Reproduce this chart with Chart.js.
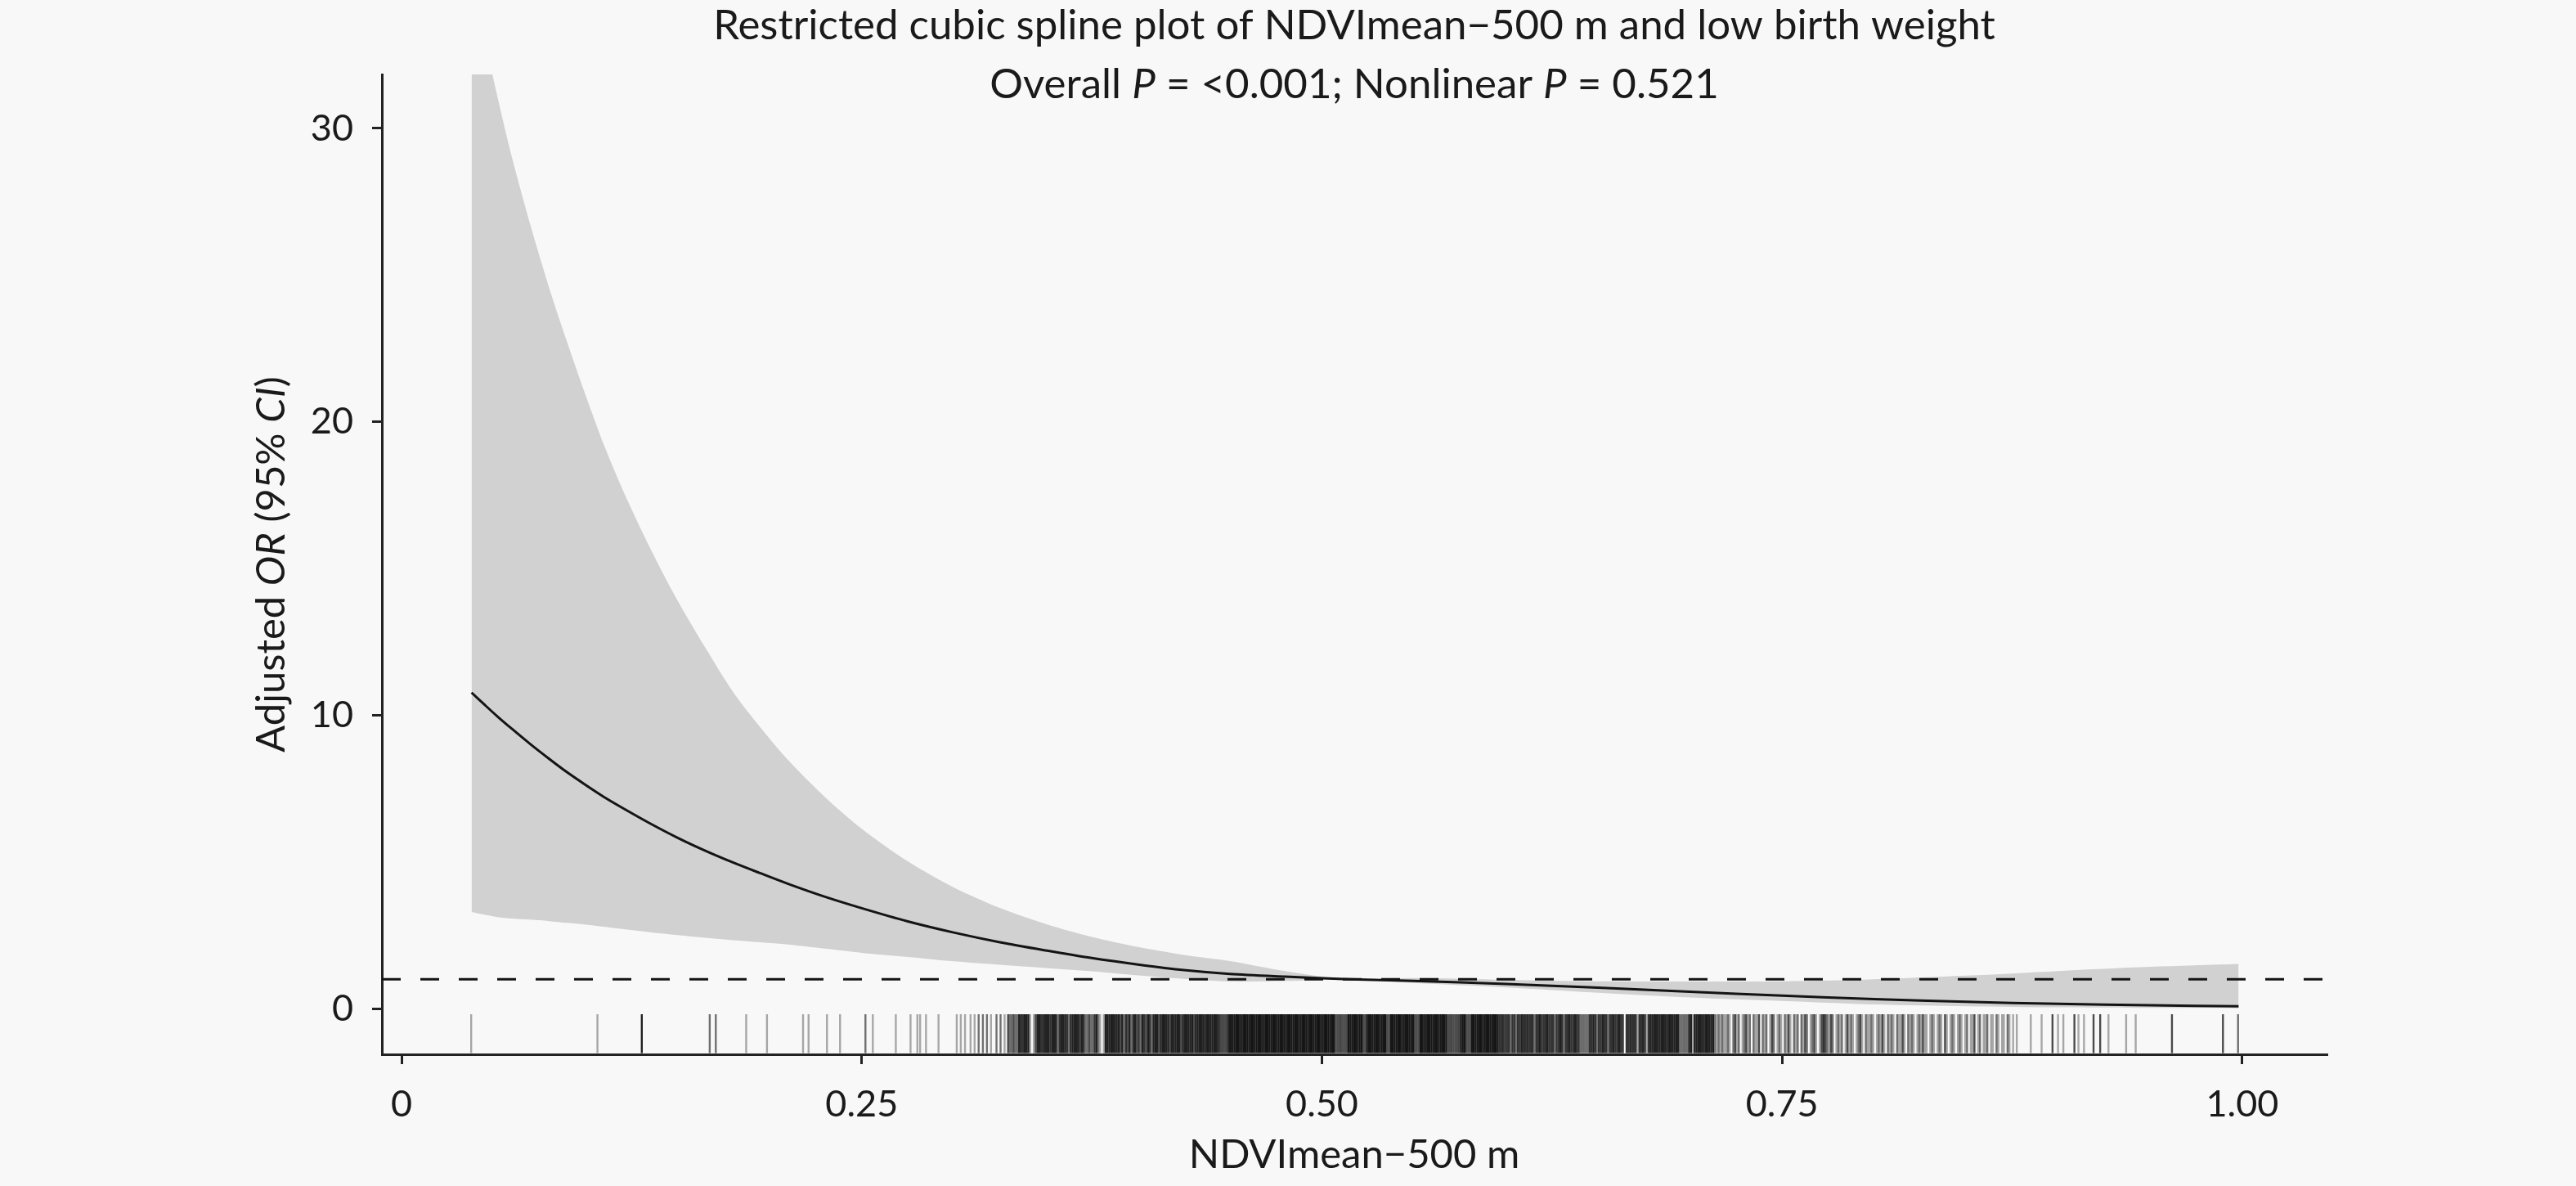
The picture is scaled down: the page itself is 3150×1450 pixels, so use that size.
<!DOCTYPE html>
<html>
<head>
<meta charset="utf-8">
<script src="https://cdn.jsdelivr.net/npm/chart.js@4.4.1/dist/chart.umd.min.js"></script>
<style>
html,body{margin:0;padding:0;background:#f8f8f8;}
canvas{display:block;}
</style>
</head>
<body>
<canvas id="c" width="3150" height="1450"></canvas>
<script>
// ---------- data ----------
const xTicks = [0, 0.25, 0.5, 0.75, 1];
const xTickLabels = ['0', '0.25', '0.50', '0.75', '1.00'];
const yTicks = [0, 10, 20, 30];
const xRange = [-0.0107, 1.0458];
const yRange = [-1.56, 31.84];
const refOR = 1;

const ndvi = [0.038, 0.045, 0.052, 0.060, 0.070, 0.080, 0.090, 0.100, 0.110, 0.120,
              0.135, 0.150, 0.165, 0.180, 0.195, 0.210, 0.230, 0.250, 0.275, 0.300,
              0.325, 0.350, 0.375, 0.400, 0.425, 0.450, 0.480, 0.515, 0.550, 0.600,
              0.650, 0.700, 0.750, 0.800, 0.850, 0.900, 0.950, 0.998];
const orEst = [10.77, 10.36, 9.96, 9.53, 9.01, 8.52, 8.05, 7.62, 7.21, 6.84,
               6.31, 5.82, 5.38, 4.98, 4.61, 4.25, 3.81, 3.42, 2.97, 2.59,
               2.26, 1.98, 1.72, 1.50, 1.31, 1.18, 1.09, 1.00, 0.94, 0.84,
               0.71, 0.57, 0.44, 0.32, 0.23, 0.16, 0.11, 0.08];
const orLow = [3.29, 3.20, 3.12, 3.07, 3.03, 2.98, 2.92, 2.86, 2.79, 2.71,
               2.60, 2.50, 2.41, 2.33, 2.26, 2.18, 2.04, 1.90, 1.76, 1.61,
               1.49, 1.38, 1.27, 1.13, 1.01, 0.92, 0.94, 1.00, 0.87, 0.72,
               0.54, 0.38, 0.26, 0.14, 0.08, 0.04, 0.02, 0.01];
const orHigh = [35.3, 33.1, 31.1, 29.0, 26.7, 24.6, 22.7, 20.9, 19.2, 17.7,
                15.7, 13.9, 12.3, 10.8, 9.58, 8.47, 7.21, 6.13, 5.02, 4.13,
                3.43, 2.88, 2.44, 2.10, 1.83, 1.62, 1.28, 1.00, 1.04, 0.98,
                0.93, 0.92, 0.93, 1.00, 1.12, 1.28, 1.42, 1.52];

// rug: isolated observations (value, count)
const rugX = [0.0378, 0.1064, 0.1305, 0.1674, 0.1707, 0.1872, 0.1985, 0.2181, 0.2211, 0.2311,
              0.2382, 0.2520, 0.2560, 0.2685, 0.2765, 0.2802, 0.2817, 0.2849, 0.2917, 0.3016,
              0.3038, 0.3061, 0.3091, 0.3113, 0.3135, 0.3158, 0.3180, 0.3202, 0.3232, 0.3254,
              0.3276, 0.3295,
              0.8851, 0.8910, 0.8969, 0.8999, 0.9028, 0.9088, 0.9110, 0.9140, 0.9192, 0.9228,
              0.9273, 0.9369, 0.9421, 0.9618, 0.9895, 0.9977];
const rugN = [1, 1, 5, 2, 2, 1, 1, 1, 1, 1,
              1, 2, 1, 1, 1, 1, 1, 1, 1, 1,
              1, 1, 1, 1, 2, 2, 2, 1, 2, 2,
              1, 3,
              1, 1, 3, 1, 1, 3, 1, 1, 3, 3,
              1, 1, 1, 3, 3, 2];
// rug: dense part, observation counts per 0.001-wide bin starting at 0.330
const rugBinStart = 0.330;
const rugBinWidth = 0.001;
const rugBinCounts = [
  2,2,3,2,2,5,5,4,5,5,  5,1,0,1,3,5,5,4,5,5,  5,5,4,5,5,5,2,4,5,5,  5,4,2,4,5,5,5,5,4,5,
  4,2,2,3,2,2,4,5,2,1,  0,1,5,5,5,5,5,5,5,5,  3,5,2,4,3,5,2,4,5,3,  4,2,5,4,3,5,4,2,5,5,
  5,3,5,5,5,5,5,3,5,5,  5,5,5,3,5,5,5,5,5,5,  3,5,5,5,5,5,5,5,5,5,  5,5,5,5,4,3,3,3,4,5,
  6,6,6,6,6,6,6,6,6,6,  6,6,6,6,6,6,6,6,6,6,  6,6,6,6,6,6,6,6,6,6,  6,6,6,6,6,6,6,6,6,6,
  6,6,6,6,6,6,6,6,6,6,  6,6,6,6,6,6,6,3,3,3,  3,3,3,3,6,6,6,6,6,6,  6,6,3,3,6,6,6,6,6,6,
  6,6,6,6,6,3,3,6,6,6,  6,6,6,6,6,6,6,6,6,6,  3,3,3,6,6,6,6,6,6,6,  6,6,6,6,6,6,6,6,3,3,
  3,3,3,3,3,6,6,6,3,3,  3,6,6,6,6,6,6,6,6,6,  6,6,6,6,6,6,4,4,4,4,  4,4,2,4,4,2,4,4,5,4,
  4,5,4,4,4,2,4,4,5,4,  4,4,5,4,4,4,2,4,4,5,  4,2,4,4,5,4,4,5,4,4,  2,2,2,2,2,4,4,5,4,2,
  4,4,5,4,4,2,4,4,5,4,  4,5,4,4,0,4,4,5,4,4,  4,1,4,4,5,4,1,4,5,5,  5,5,5,5,5,5,5,5,5,5,
  5,5,5,5,2,2,2,2,2,5,  5,1,5,5,5,5,5,5,5,5,  5,5,5,2,1,2,1,2,1,1,  2,1,0,2,3,1,2,0,1,2,
  3,1,2,0,2,1,1,3,0,2,  1,2,0,1,3,2,0,1,2,1,  0,2,1,3,1,0,2,1,2,0,  2,1,3,2,0,1,2,3,1,0,
  1,3,4,3,2,1,3,2,0,1,  2,1,2,0,1,3,1,2,1,0,  1,2,3,1,0,2,1,1,2,1,  0,1,2,1,3,1,0,2,1,2,
  1,0,2,1,1,3,1,0,2,1,  2,1,0,1,2,1,3,1,1,0,  1,2,1,0,1,2,1,0,3,1,  0,1,2,1,0,1,2,1,0,1,
  2,0,1,1,3,0,1,2,0,1,  1,2,0,1,1,0,2,1,0,1,  1,0,2,1,0,1,0,1,0,0
];

const titleLine1 = [{t: 'Restricted cubic spline plot of NDVImean\u2212500 m and low birth weight'}];
const titleLine2 = [{t: 'Overall '}, {t: 'P', i: true}, {t: ' = <0.001; Nonlinear '}, {t: 'P', i: true}, {t: ' = 0.521'}];
const yTitle = [{t: 'Adjusted '}, {t: 'OR', i: true}, {t: ' (95% '}, {t: 'CI', i: true}, {t: ')'}];
const xTitle = 'NDVImean\u2212500 m';

// ---------- styles ----------
const FONT = 'Lato';
const TEXT = '#1a1a1a';
const AXIS = '#222222';
const BAND = '#d1d1d1';
const LINE = '#141414';
const BG = '#f8f8f8';

function pts(ys) { return ndvi.map((x, i) => ({x: x, y: ys[i]})); }

function drawSegments(ctx, segs, cx, y, size) {
  const fonts = segs.map(s => (s.i ? 'italic ' : '') + size + 'px ' + FONT);
  let total = 0;
  const ws = segs.map((s, k) => { ctx.font = fonts[k]; const w = ctx.measureText(s.t).width; total += w; return w; });
  let x = cx - total / 2;
  ctx.textAlign = 'left';
  ctx.textBaseline = 'alphabetic';
  ctx.fillStyle = TEXT;
  segs.forEach((s, k) => { ctx.font = fonts[k]; ctx.fillText(s.t, x, y); x += ws[k]; });
}

const bgPlugin = {
  id: 'bg',
  beforeDraw(chart) {
    const c = chart.ctx;
    c.save(); c.fillStyle = BG; c.fillRect(0, 0, chart.width, chart.height); c.restore();
  }
};

const rugPlugin = {
  id: 'rug',
  afterDatasetsDraw(chart) {
    const c = chart.ctx, xs = chart.scales.x, a = chart.chartArea;
    const y1 = a.bottom - 1.5, y0 = a.bottom - 49;
    c.save();
    c.lineWidth = 2.4;
    function tick(v, n) {
      if (!n) return;
      const alpha = 1 - Math.pow(0.67, n);
      c.strokeStyle = 'rgba(0,0,0,' + alpha.toFixed(3) + ')';
      const px = xs.getPixelForValue(v);
      c.beginPath(); c.moveTo(px, y0); c.lineTo(px, y1); c.stroke();
    }
    rugX.forEach((v, i) => tick(v, rugN[i] || 1));
    rugBinCounts.forEach((n, i) => tick(rugBinStart + (i + 0.5) * rugBinWidth, n));
    c.restore();
  }
};

const textPlugin = {
  id: 'texts',
  afterDraw(chart) {
    const c = chart.ctx, a = chart.chartArea;
    const cx = (a.left + a.right) / 2, cy = (a.top + a.bottom) / 2;
    c.save();
    drawSegments(c, titleLine1, cx, 48, 51);
    drawSegments(c, titleLine2, cx, 120, 51);
    c.translate(348, cy);
    c.rotate(-Math.PI / 2);
    drawSegments(c, yTitle, 0, 0, 49);
    c.restore();
  }
};

function build() {
  Chart.defaults.font.family = FONT;
  const axisGrid = {display: true, drawOnChartArea: false, drawTicks: true, tickLength: 12, lineWidth: 3, color: AXIS};
  const axisBorder = {display: true, color: AXIS, width: 3};
  new Chart(document.getElementById('c'), {
    type: 'line',
    data: {
      datasets: [
        {label: 'lower', data: pts(orLow), borderWidth: 0, borderColor: 'rgba(0,0,0,0)', pointRadius: 0,
         fill: false, tension: 0.3, order: 4, clip: 0},
        {label: 'upper', data: pts(orHigh), borderWidth: 0, borderColor: 'rgba(0,0,0,0)', pointRadius: 0,
         fill: '-1', backgroundColor: BAND, tension: 0.3, order: 3, clip: 0},
        {label: 'OR', data: pts(orEst), borderWidth: 3, borderColor: LINE, pointRadius: 0,
         fill: false, tension: 0.3, order: 2},
        {label: 'ref', data: [{x: xRange[0], y: refOR}, {x: xRange[1], y: refOR}], borderWidth: 3,
         borderColor: LINE, borderDash: [23, 24], pointRadius: 0, fill: false, order: 1}
      ]
    },
    options: {
      responsive: false, devicePixelRatio: 1, animation: false, events: [],
      layout: {padding: {left: 0, right: 305, top: 91, bottom: 0}},
      plugins: {legend: {display: false}, tooltip: {enabled: false}, title: {display: false}},
      scales: {
        x: {
          type: 'linear', position: 'bottom', min: xRange[0], max: xRange[1],
          afterBuildTicks: s => { s.ticks = xTicks.map(v => ({value: v})); },
          afterFit: s => { s.height = 161; },
          ticks: {callback: v => xTickLabels[xTicks.indexOf(v)], font: {family: FONT, size: 45}, color: TEXT,
                  padding: 22, maxRotation: 0, autoSkip: false},
          grid: axisGrid, border: axisBorder,
          title: {display: true, text: xTitle, font: {family: FONT, size: 49}, color: TEXT, padding: {top: 0, bottom: 8}}
        },
        y: {
          type: 'linear', position: 'left', min: yRange[0], max: yRange[1],
          afterBuildTicks: s => { s.ticks = yTicks.map(v => ({value: v})); },
          afterFit: s => { s.width = 467; },
          ticks: {callback: v => String(v), font: {family: FONT, size: 45}, color: TEXT, padding: 23, autoSkip: false},
          grid: axisGrid, border: axisBorder
        }
      }
    },
    plugins: [bgPlugin, rugPlugin, textPlugin]
  });
}

let built = false;
function go() { if (!built) { built = true; build(); } }
if (document.fonts && document.fonts.load) {
  Promise.all([
    document.fonts.load('45px Lato'), document.fonts.load('italic 49px Lato'), document.fonts.load('51px Lato')
  ]).then(go, go);
  setTimeout(go, 1500);
} else { go(); }
</script>
</body>
</html>
